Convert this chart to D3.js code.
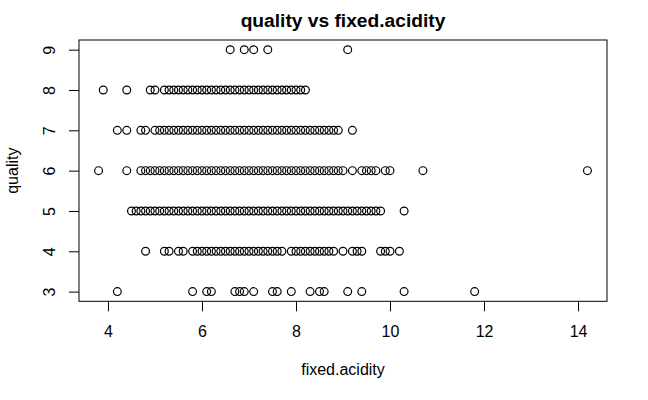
<!DOCTYPE html>
<html>
<head>
<meta charset="utf-8">
<script src="https://cdn.jsdelivr.net/npm/d3@7"></script>
<style>
  body { margin: 0; background: #fff; }
  svg { display: block; }
  text { font-family: "Liberation Sans", Arial, Helvetica, sans-serif; fill: #000; }
  .axis text { font-size: 16px; }
  .axis line { stroke: #000; }
</style>
</head>
<body>
<svg width="648" height="400"></svg>
<script>
var svg = d3.select("svg");

// fixed.acidity values seen at each quality level
var quality3 = [4.2, 5.8, 6.1, 6.2, 6.7, 6.8, 6.9, 7.1, 7.5, 7.6, 7.9, 8.3, 8.5, 8.6, 9.1, 9.4, 10.3, 11.8];
var quality4 = [4.8, 5.2, 5.3, 5.5, 5.6, 5.8, 5.9, 6.0, 6.1, 6.2, 6.3, 6.4, 6.5, 6.6, 6.7, 6.8, 6.9,
    7.0, 7.1, 7.2, 7.3, 7.4, 7.5, 7.6, 7.7, 7.9, 8.0, 8.1, 8.2, 8.3, 8.4, 8.5, 8.6, 8.7, 8.8,
    9.0, 9.2, 9.3, 9.4, 9.8, 9.9, 10.0, 10.2];
var quality5 = [4.5, 4.6, 4.7, 4.8, 4.9, 5.0, 5.1, 5.2, 5.3, 5.4, 5.5, 5.6, 5.7, 5.8, 5.9,
    6.0, 6.1, 6.2, 6.3, 6.4, 6.5, 6.6, 6.7, 6.8, 6.9, 7.0, 7.1, 7.2, 7.3, 7.4, 7.5, 7.6, 7.7, 7.8, 7.9,
    8.0, 8.1, 8.2, 8.3, 8.4, 8.5, 8.6, 8.7, 8.8, 8.9, 9.0, 9.1, 9.2, 9.3, 9.4, 9.5, 9.6, 9.7, 9.8, 10.3];
var quality6 = [3.8, 4.4, 4.7, 4.8, 4.9, 5.0, 5.1, 5.2, 5.3, 5.4, 5.5, 5.6, 5.7, 5.8, 5.9,
    6.0, 6.1, 6.2, 6.3, 6.4, 6.5, 6.6, 6.7, 6.8, 6.9, 7.0, 7.1, 7.2, 7.3, 7.4, 7.5, 7.6, 7.7, 7.8, 7.9,
    8.0, 8.1, 8.2, 8.3, 8.4, 8.5, 8.6, 8.7, 8.8, 8.9, 9.0, 9.2, 9.4, 9.5, 9.6, 9.7, 9.9, 10.0, 10.7, 14.2];
var quality7 = [4.2, 4.4, 4.7, 4.8, 5.0, 5.1, 5.2, 5.3, 5.4, 5.5, 5.6, 5.7, 5.8, 5.9,
    6.0, 6.1, 6.2, 6.3, 6.4, 6.5, 6.6, 6.7, 6.8, 6.9, 7.0, 7.1, 7.2, 7.3, 7.4, 7.5, 7.6, 7.7, 7.8, 7.9,
    8.0, 8.1, 8.2, 8.3, 8.4, 8.5, 8.6, 8.7, 8.8, 8.9, 9.2];
var quality8 = [3.9, 4.4, 4.9, 5.0, 5.2, 5.3, 5.4, 5.5, 5.6, 5.7, 5.8, 5.9,
    6.0, 6.1, 6.2, 6.3, 6.4, 6.5, 6.6, 6.7, 6.8, 6.9, 7.0, 7.1, 7.2, 7.3, 7.4, 7.5, 7.6, 7.7, 7.8, 7.9,
    8.0, 8.1, 8.2];
var quality9 = [6.6, 6.9, 7.1, 7.4, 9.1];

var qualityLevels = [3, 4, 5, 6, 7, 8, 9];
var acidityByQuality = [quality3, quality4, quality5, quality6, quality7, quality8, quality9];
var xTicks = [4, 6, 8, 10, 12, 14];
var yTicks = [3, 4, 5, 6, 7, 8, 9];

// flatten to points
var points = [];
acidityByQuality.forEach(function(vals, i) {
    vals.forEach(function(v) { points.push({ x: v, q: qualityLevels[i] }); });
});

// R style 4% padding around the data range
function padded(ext) {
    var p = (ext[1] - ext[0]) * 0.04;
    return [ext[0] - p, ext[1] + p];
}

var plotLeft = 79, plotRight = 607, plotTop = 40, plotBottom = 301.3;

var x = d3.scaleLinear()
    .domain(padded(d3.extent(points, function(d) { return d.x; })))
    .range([plotLeft, plotRight]);

var y = d3.scaleLinear()
    .domain(padded(d3.extent(points, function(d) { return d.q; })))
    .range([plotBottom, plotTop]);

// points
svg.append("g").selectAll("circle")
    .data(points)
    .enter()
    .append("circle")
    .attr("cx", function(d) { return x(d.x); })
    .attr("cy", function(d) { return y(d.q); })
    .attr("r", 3.9)
    .style("fill", "none")
    .style("stroke", "#000")
    .style("stroke-width", 1.2);

// box
svg.append("rect")
    .attr("x", plotLeft)
    .attr("y", plotTop)
    .attr("width", plotRight - plotLeft)
    .attr("height", plotBottom - plotTop)
    .style("fill", "none")
    .style("stroke", "#000")
    .style("stroke-width", 1);

// x axis
var xAxis = svg.append("g")
    .attr("class", "axis")
    .attr("transform", "translate(0," + plotBottom + ")")
    .call(d3.axisBottom(x).tickValues(xTicks).tickSize(10).tickFormat(d3.format("d")));
xAxis.select(".domain").remove();
xAxis.selectAll("text").attr("dy", null).attr("y", 35.4);

// y axis, labels turned like R's las = 0
var yAxis = svg.append("g")
    .attr("class", "axis")
    .attr("transform", "translate(" + plotLeft + ",0)")
    .call(d3.axisLeft(y).tickValues(yTicks).tickSize(10).tickFormat(d3.format("d")));
yAxis.select(".domain").remove();
yAxis.selectAll("text")
    .attr("x", null).attr("dy", null)
    .attr("text-anchor", "middle")
    .attr("transform", "translate(-24,0) rotate(-90)");

// title
svg.append("text")
    .attr("x", (plotLeft + plotRight) / 2)
    .attr("y", 26.5)
    .attr("text-anchor", "middle")
    .style("font-size", "19.2px")
    .style("font-weight", "bold")
    .text("quality vs fixed.acidity");

// axis titles
svg.append("text")
    .attr("x", (plotLeft + plotRight) / 2)
    .attr("y", 375)
    .attr("text-anchor", "middle")
    .style("font-size", "16px")
    .text("fixed.acidity");

svg.append("text")
    .attr("transform", "translate(18," + (plotTop + plotBottom) / 2 + ") rotate(-90)")
    .attr("text-anchor", "middle")
    .style("font-size", "16px")
    .text("quality");
</script>
</body>
</html>
